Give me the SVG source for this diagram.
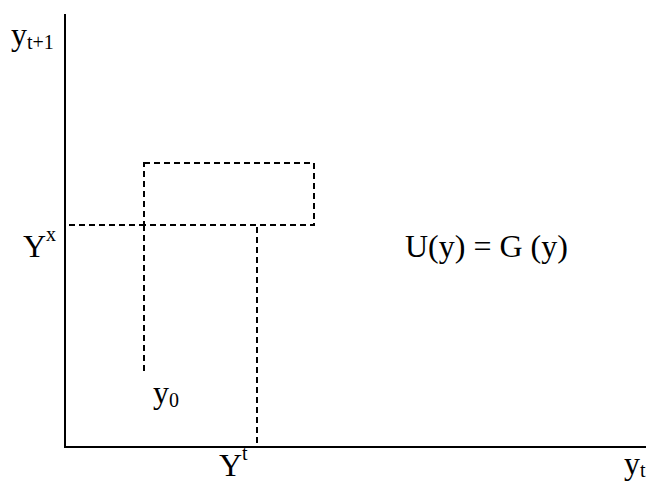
<svg xmlns="http://www.w3.org/2000/svg" width="646" height="482" viewBox="0 0 646 482">
<style>
.axis{stroke:#000;stroke-width:2;fill:none}
.dash{stroke:#000;stroke-width:2;fill:none;stroke-dasharray:6 4}
.m{font-size:32px;fill:#000}
.s{font-size:20px}
</style>
<rect width="646" height="482" fill="#fff"/>
<g id="connectors">
<line class="axis" x1="65" y1="14" x2="65" y2="448"/>
<line class="axis" x1="64" y1="447" x2="646" y2="447"/>
<rect class="dash" x="144" y="163" width="170" height="62"/>
<line class="dash" x1="69" y1="225" x2="144" y2="225"/>
<line class="dash" x1="144" y1="225" x2="144" y2="374"/>
<line class="dash" x1="257" y1="227" x2="257" y2="447"/>
</g>
<g id="label-yt1"><text class="m" font-family="'Liberation Serif', 'Times New Roman', Times, serif" x="11" y="45">y<tspan class="s" dy="4">t+1</tspan></text></g>
<g id="label-Yx"><text class="m" font-family="'Liberation Serif', 'Times New Roman', Times, serif" x="23" y="257">Y<tspan class="s" dy="-16">x</tspan></text></g>
<g id="label-eq"><text class="m" font-family="'Liberation Serif', 'Times New Roman', Times, serif" x="405" y="257">U(y) = G (y)</text></g>
<g id="label-y0"><text class="m" font-family="'Liberation Serif', 'Times New Roman', Times, serif" x="153" y="403">y<tspan class="s" dy="4">0</tspan></text></g>
<g id="label-Yt"><text class="m" font-family="'Liberation Serif', 'Times New Roman', Times, serif" x="219" y="476">Y<tspan class="s" dy="-16">t</tspan></text></g>
<g id="label-yt"><text class="m" font-family="'Liberation Serif', 'Times New Roman', Times, serif" x="624" y="474">y<tspan class="s" dy="3">t</tspan></text></g>
</svg>
